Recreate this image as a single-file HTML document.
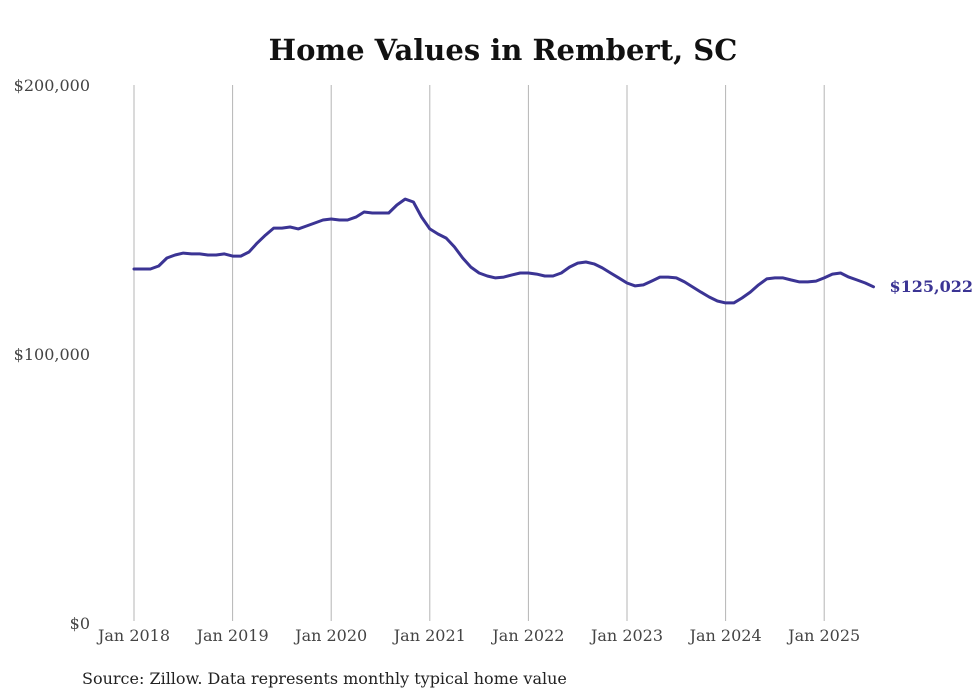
<!DOCTYPE html>
<html><head><meta charset="utf-8">
<style>
html,body{margin:0;padding:0;background:#fff;}
svg{display:block;}
text{font-family:"DejaVu Serif","Liberation Serif",serif;}
</style></head>
<body>
<svg id="chart" width="980" height="699" viewBox="0 0 980 699" xmlns="http://www.w3.org/2000/svg">
<text x="503" y="60" text-anchor="middle" font-size="29" font-weight="bold" fill="#111">Home Values in Rembert, SC</text>
<g id="grid"></g>
<g id="yticks"></g>
<g id="xticks"></g>
<path id="line" fill="none" stroke="#3b3494" stroke-width="3" stroke-linejoin="round" stroke-linecap="round"/>
<text id="endlabel" font-size="16" font-weight="bold" fill="#3b3494"></text>
<text x="82" y="684" font-size="16" fill="#222">Source: Zillow. Data represents monthly typical home value</text>
</svg>
<script>
const xTickLabels = ["Jan 2018","Jan 2019","Jan 2020","Jan 2021","Jan 2022","Jan 2023","Jan 2024","Jan 2025"];
const yTickValues = [0, 100000, 200000];
const yTickLabels = ["$0","$100,000","$200,000"];
const endLabel = "$125,022";
// monthly values in thousands, Jan 2018 .. Jul 2025
const values = [
131.6,131.6,131.6,132.7,135.7,136.8,137.5,137.2,137.2,136.8,136.8,137.2,
136.4,136.4,137.9,141.3,144.2,146.8,146.8,147.2,146.5,147.6,148.7,149.8,
150.2,149.8,149.8,150.9,152.8,152.4,152.4,152.4,155.4,157.6,156.5,150.9,
146.5,144.6,143.1,139.8,135.7,132.3,130.1,129.0,128.3,128.6,129.4,130.1,
130.1,129.7,129.0,129.0,130.1,132.3,133.8,134.2,133.5,132.0,130.1,128.3,
126.4,125.3,125.7,127.1,128.6,128.6,128.3,126.8,124.9,123.0,121.2,119.7,
119.0,119.0,120.8,123.0,125.7,127.9,128.3,128.3,127.5,126.8,126.8,127.1,
128.3,129.7,130.1,128.6,127.5,126.4,125.0
];
const x0 = 134, pxPerYear = 98.6;
const yBase = 623, yTop = 85;
function xScale(m){ return x0 + m * pxPerYear / 12; }
function yScale(v){ return yBase - (v / 200000) * (yBase - yTop); }
const NS = "http://www.w3.org/2000/svg";
const grid = document.getElementById('grid');
const xt = document.getElementById('xticks');
xTickLabels.forEach((lab, i) => {
  const x = xScale(i * 12);
  const l = document.createElementNS(NS, 'line');
  
  
  l.setAttribute('x1', x); l.setAttribute('x2', x);
  l.setAttribute('y1', yTop); l.setAttribute('y2', 621);
  l.setAttribute('stroke', '#b5b5b5'); l.setAttribute('stroke-width', '1');
  grid.appendChild(l);
  const t = document.createElementNS(NS, 'text');
  
  
  t.setAttribute('x', x); t.setAttribute('y', 641);
  t.setAttribute('text-anchor', 'middle');
  t.setAttribute('font-size', '16'); t.setAttribute('fill', '#444');
  t.textContent = lab;
  xt.appendChild(t);
});
const yt = document.getElementById('yticks');
yTickValues.forEach((v, i) => {
  const t = document.createElementNS(NS, 'text');
  
  
  t.setAttribute('x', 90); t.setAttribute('y', yScale(v) + 6);
  t.setAttribute('text-anchor', 'end');
  t.setAttribute('font-size', '16'); t.setAttribute('fill', '#444');
  t.textContent = yTickLabels[i];
  yt.appendChild(t);
});
let d = '';
values.forEach((v, i) => {
  d += (i ? 'L' : 'M') + xScale(i).toFixed(1) + ',' + yScale(v * 1000).toFixed(1);
});
document.getElementById('line').setAttribute('d', d);
const last = values.length - 1;
const el = document.getElementById('endlabel');
el.setAttribute('x', xScale(last) + 16);
el.setAttribute('y', yScale(values[last] * 1000) + 5);
el.textContent = endLabel;
</script>
</body></html>
